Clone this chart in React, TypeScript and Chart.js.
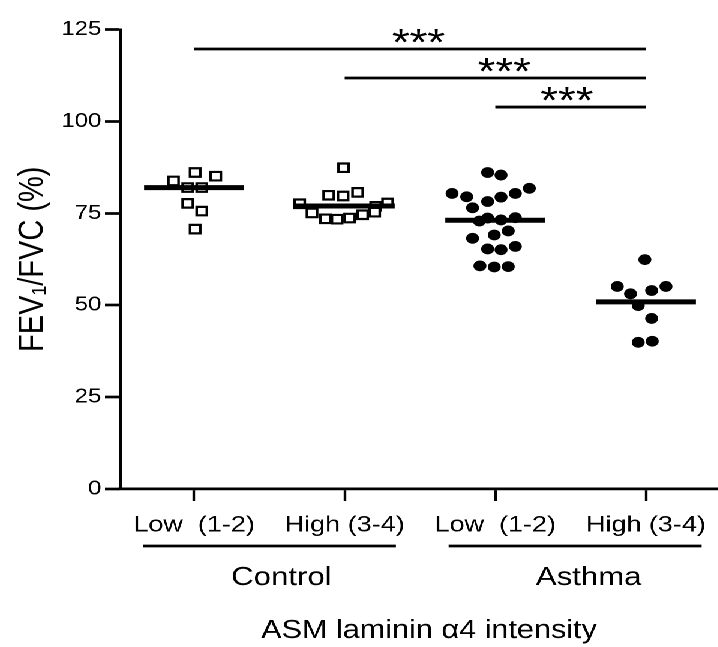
import React, { useEffect, useRef } from 'react';
import { Chart, registerables } from 'chart.js';

Chart.register(...registerables);

const FONT = '"Liberation Sans", Arial, Helvetica, sans-serif';

// ---- data ----
const categories = ['Low  (1-2)', 'High (3-4)', 'Low  (1-2)', 'High (3-4)'];
const groupNames = ['Control', 'Asthma'];
const yTickValues = [0, 25, 50, 75, 100, 125];

const controlLowValues = [86.1, 85.1, 83.8, 82.0, 82.0, 77.7, 75.6, 70.7];
const controlLowJitter = [0.007, 0.144, -0.137, -0.042, 0.051, -0.042, 0.051, 0.007];

const controlHighValues = [87.4, 80.7, 79.9, 79.7, 77.8, 77.6, 76.9, 75.3, 75.1, 74.6, 73.7, 73.5, 73.4];
const controlHighJitter = [-0.007, 0.086, -0.106, -0.011, 0.285, -0.299, 0.206, 0.199, -0.217, 0.119, 0.033, -0.128, -0.051];

const asthmaLowValues = [86.1, 85.4, 81.8, 80.4, 80.4, 79.5, 79.4, 78.2, 76.5, 73.8, 73.7, 73.2, 72.9, 70.2, 69.1, 68.2, 66.0, 65.3, 65.1, 60.7, 60.5, 60.4];
const asthmaLowJitter = [-0.051, 0.038, 0.226, -0.287, 0.133, -0.19, 0.038, -0.051, -0.151, 0.133, -0.051, 0.038, -0.106, 0.086, -0.007, -0.151, 0.133, -0.051, 0.038, -0.102, 0.086, -0.007];

const asthmaHighValues = [62.4, 55.1, 55.1, 54.0, 53.1, 49.9, 46.4, 40.2, 39.9];
const asthmaHighJitter = [-0.007, -0.19, 0.133, 0.038, -0.102, -0.051, 0.038, 0.042, -0.051];

const medians = [82.0, 77.0, 73.1, 50.9];

const sigFrom = [1, 2, 3];
const sigTo = [4, 4, 4];
const sigLevel = [119.7, 111.8, 103.9];
const sigText = ['***', '***', '***'];
const sigTextX = [2.49, 3.06, 3.475];

const groupFrom = [0.66, 2.69];
const groupTo = [2.34, 4.37];
const groupLabelX = [1.58, 3.62];

const xTitle = 'ASM laminin \u03b14 intensity';
const yTitle = 'FEV\u2081/FVC (%)';

const W = 598;
const H = 647;

// ---- helpers ----
const toPoints = (cat: number, values: number[], jitter: number[]) =>
  values.map((v, i) => ({ x: cat + jitter[i], y: v }));

const medianSegments = () => {
  const pts: { x: number; y: number | null }[] = [];
  medians.forEach((m, i) => {
    const c = i + 1;
    pts.push({ x: c - 0.332, y: m }, { x: c + 0.332, y: m }, { x: c + 0.5, y: null });
  });
  return pts;
};

const sigSegments = () => {
  const pts: { x: number; y: number | null }[] = [];
  sigLevel.forEach((lv, i) => {
    pts.push({ x: sigFrom[i], y: lv }, { x: sigTo[i], y: lv }, { x: sigTo[i], y: null });
  });
  return pts;
};

const annotationsPlugin = {
  id: 'annotations',
  afterDraw(chart: any) {
    const { ctx, chartArea } = chart;
    const x = chart.scales.x;
    const y = chart.scales.y;
    ctx.save();
    ctx.fillStyle = '#000';
    ctx.strokeStyle = '#000';

    // significance stars
    ctx.font = `38px ${FONT}`;
    ctx.textAlign = 'center';
    ctx.textBaseline = 'alphabetic';
    sigText.forEach((t, i) => {
      ctx.fillText(t, x.getPixelForValue(sigTextX[i]), y.getPixelForValue(sigLevel[i]) + 6);
    });

    // group underlines and labels
    const base = chartArea.bottom;
    ctx.lineWidth = 2.7;
    groupNames.forEach((g, i) => {
      ctx.beginPath();
      ctx.moveTo(x.getPixelForValue(groupFrom[i]), base + 57);
      ctx.lineTo(x.getPixelForValue(groupTo[i]), base + 57);
      ctx.stroke();
      ctx.font = `26px ${FONT}`;
      ctx.fillText(g, x.getPixelForValue(groupLabelX[i]), base + 96);
    });

    // x-axis title
    ctx.font = `25.5px ${FONT}`;
    ctx.fillText(xTitle, (chartArea.left + chartArea.right) / 2 + 8.5, base + 149);
    ctx.restore();
  },
};

export default function App() {
  const ref = useRef<HTMLCanvasElement | null>(null);

  useEffect(() => {
    if (!ref.current) return;
    const squareStyle = {
      pointStyle: 'rect',
      pointRadius: 6,
      backgroundColor: '#ffffff',
      borderColor: '#000000',
      borderWidth: 2.2,
      order: 2,
    };
    const circleStyle = {
      pointStyle: 'circle',
      pointRadius: 5.4,
      backgroundColor: '#000000',
      borderColor: '#000000',
      borderWidth: 0,
      order: 2,
    };
    const chart = new Chart(ref.current, {
      type: 'scatter',
      data: {
        datasets: [
          { label: 'Control low', data: toPoints(1, controlLowValues, controlLowJitter), ...squareStyle },
          { label: 'Control high', data: toPoints(2, controlHighValues, controlHighJitter), ...squareStyle },
          { label: 'Asthma low', data: toPoints(3, asthmaLowValues, asthmaLowJitter), ...circleStyle },
          { label: 'Asthma high', data: toPoints(4, asthmaHighValues, asthmaHighJitter), ...circleStyle },
          {
            label: 'Median',
            data: medianSegments(),
            showLine: true,
            spanGaps: false,
            pointRadius: 0,
            borderColor: '#000',
            borderWidth: 5,
            borderCapStyle: 'butt',
            order: 0,
          },
          {
            label: 'Significance',
            data: sigSegments(),
            showLine: true,
            spanGaps: false,
            pointRadius: 0,
            borderColor: '#000',
            borderWidth: 2.8,
            borderCapStyle: 'butt',
            order: 0,
          },
        ] as any,
      },
      options: {
        animation: false,
        responsive: false,
        maintainAspectRatio: false,
        devicePixelRatio: 2,
        layout: { autoPadding: false, padding: { top: 29.5, left: 0, right: 0, bottom: 0 } },
        plugins: { legend: { display: false }, tooltip: { enabled: false } },
        scales: {
          x: {
            type: 'linear',
            min: 0.508,
            max: 4.476,
            afterBuildTicks: (s: any) => {
              s.ticks = categories.map((_, i) => ({ value: i + 1 }));
            },
            afterFit: (s: any) => {
              s.height = 158;
              s.paddingLeft = 0;
              s.paddingRight = 0;
            },
            ticks: {
              autoSkip: false,
              maxRotation: 0,
              minRotation: 0,
              padding: 11,
              color: '#000',
              font: { family: FONT, size: 22.5 },
              callback: (_v: any, i: number) => categories[i] ?? '',
            },
            grid: {
              display: true,
              drawOnChartArea: false,
              drawTicks: true,
              tickLength: 12,
              tickWidth: 2.2,
              tickColor: '#000',
            },
            border: { display: true, color: '#000', width: 2.7 },
          },
          y: {
            type: 'linear',
            min: 0,
            max: 125,
            afterBuildTicks: (s: any) => {
              s.ticks = yTickValues.map((v) => ({ value: v }));
            },
            afterFit: (s: any) => {
              s.width = 100;
              s.paddingTop = 0;
              s.paddingBottom = 0;
            },
            ticks: {
              padding: 3,
              color: '#000',
              font: { family: FONT, size: 20 },
            },
            grid: {
              display: true,
              drawOnChartArea: false,
              drawTicks: true,
              tickLength: 12.5,
              tickWidth: 2.7,
              tickColor: '#000',
            },
            border: { display: true, color: '#000', width: 2.5 },
            title: {
              display: true,
              text: yTitle,
              color: '#000',
              font: { family: FONT, size: 29 },
              padding: { top: 10, bottom: 0 },
            },
          },
        },
      } as any,
      plugins: [annotationsPlugin],
    });
    return () => chart.destroy();
  }, []);

  return (
    <div
      style={{
        position: 'absolute',
        left: 0,
        top: 0,
        width: W,
        height: H,
        transform: 'scaleX(1.2)',
        transformOrigin: '0 0',
        background: '#fff',
        overflow: 'hidden',
      }}
    >
      <canvas ref={ref} width={W} height={H} style={{ width: W + 'px', height: H + 'px', display: 'block' }} />
    </div>
  );
}
